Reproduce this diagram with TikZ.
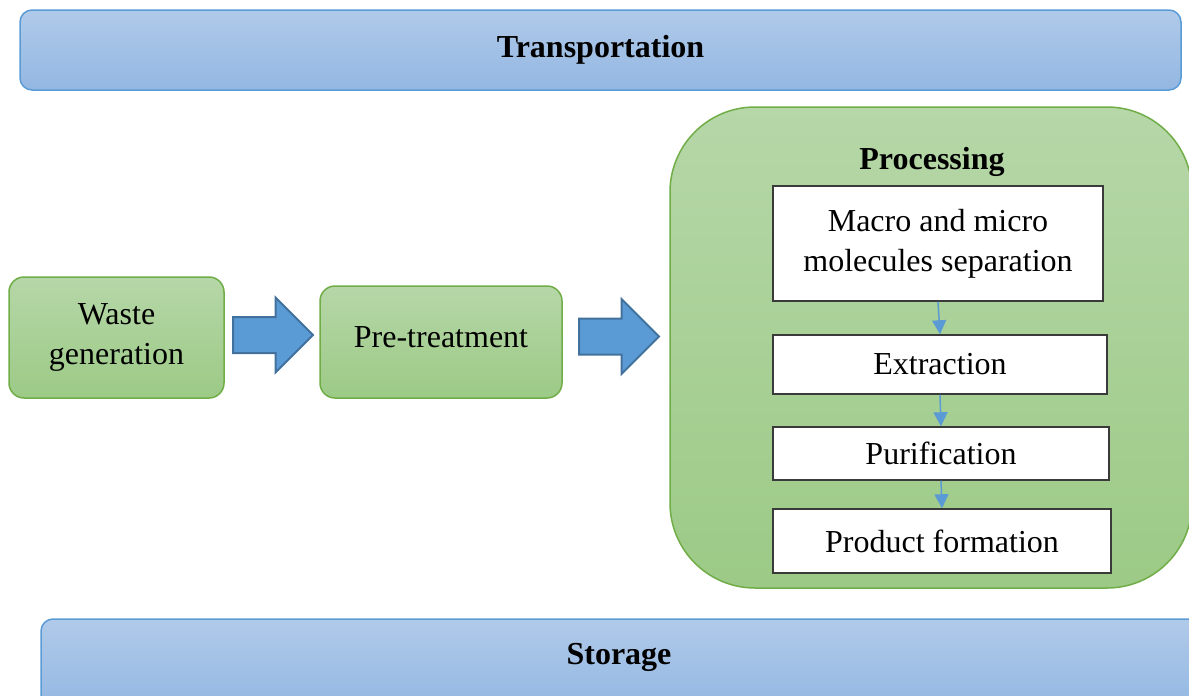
\documentclass[tikz,border=0pt]{standalone}
\usepackage{fontspec}
\setmainfont{Liberation Serif}
\usetikzlibrary{shapes.arrows,arrows.meta}
\definecolor{bluetop}{HTML}{B0CAE9}
\definecolor{bluebot}{HTML}{93B7E2}
\definecolor{blueline}{HTML}{5B9BD5}
\definecolor{greentop}{HTML}{B6D7A8}
\definecolor{greenbot}{HTML}{9CCA86}
\definecolor{greenline}{HTML}{70AD47}
\definecolor{arrowfill}{HTML}{5B9BD5}
\definecolor{arrowline}{HTML}{41719C}
\definecolor{boxline}{HTML}{3A3A3A}
\tikzset{
  lab/.style={font=\fontsize{32}{40}\selectfont, align=center},
  labb/.style={font=\fontsize{32}{40}\selectfont\bfseries},
  bar/.style={draw=blueline, line width=1.5pt, rounded corners=12pt, top color=bluetop, bottom color=bluebot, inner sep=0pt},
  stage/.style={lab, draw=greenline, line width=1.5pt, rounded corners=15pt, top color=greentop, bottom color=greenbot, inner sep=0pt},
  proc/.style={draw=greenline, line width=1.5pt, rounded corners=85pt, top color=greentop, bottom color=greenbot, inner sep=0pt},
  stepbox/.style={lab, draw=boxline, line width=1.5pt, fill=white, inner sep=0pt},
  bigarrow/.style={single arrow, draw=arrowline, fill=arrowfill, line width=2pt, inner xsep=0pt, inner ysep=17pt, minimum height=80pt, single arrow head extend=19.5pt},
  link/.style={draw=blueline, line width=1.5pt, -{Triangle[length=14pt,width=14pt]}},
}
\begin{document}
\begin{tikzpicture}[x=1pt,y=-1pt]
  \useasboundingbox (0,0) rectangle (1189,696);
  \clip (0,0) rectangle (1189,696);
  % bars
  \node[bar, minimum width=1161pt, minimum height=80pt, labb] (transport) at (600.5,50) {Transportation};
  \node[bar, minimum width=1159pt, minimum height=91pt] (storage) at (620.5,664.5) {};
  \node[labb] (storagetext) at (619,657) {Storage};
  % stages
  \node[stage, minimum width=215pt, minimum height=121pt] (waste) at (116.5,337.5) {Waste\\generation};
  \node[stage, minimum width=242pt, minimum height=112pt] (pre) at (441,342) {\raisebox{10pt}{Pre-treatment}};
  \node[proc, minimum width=522pt, minimum height=481pt] (processing) at (931,347.5) {};
  \node[labb] (proctext) at (932,162) {Processing};
  \node[bigarrow] (arrowa) at (264,335) {};
  \node[bigarrow] (arrowb) at (610,336.5) {};
  % processing steps
  \node[stepbox, minimum width=330pt, minimum height=115pt] (sep) at (938,243.5) {Macro and micro\\molecules separation};
  \node[stepbox, minimum width=334pt, minimum height=59pt] (extr) at (940,364.5) {Extraction};
  \node[stepbox, minimum width=336pt, minimum height=53pt] (puri) at (941,453.5) {Purification};
  \node[stepbox, minimum width=338pt, minimum height=64pt] (prod) at (942,541) {Product formation};
  \draw[link] (sep.south) -- (extr.north);
  \draw[link] (extr.south) -- (puri.north);
  \draw[link] (puri.south) -- (prod.north);
\end{tikzpicture}
\end{document}
